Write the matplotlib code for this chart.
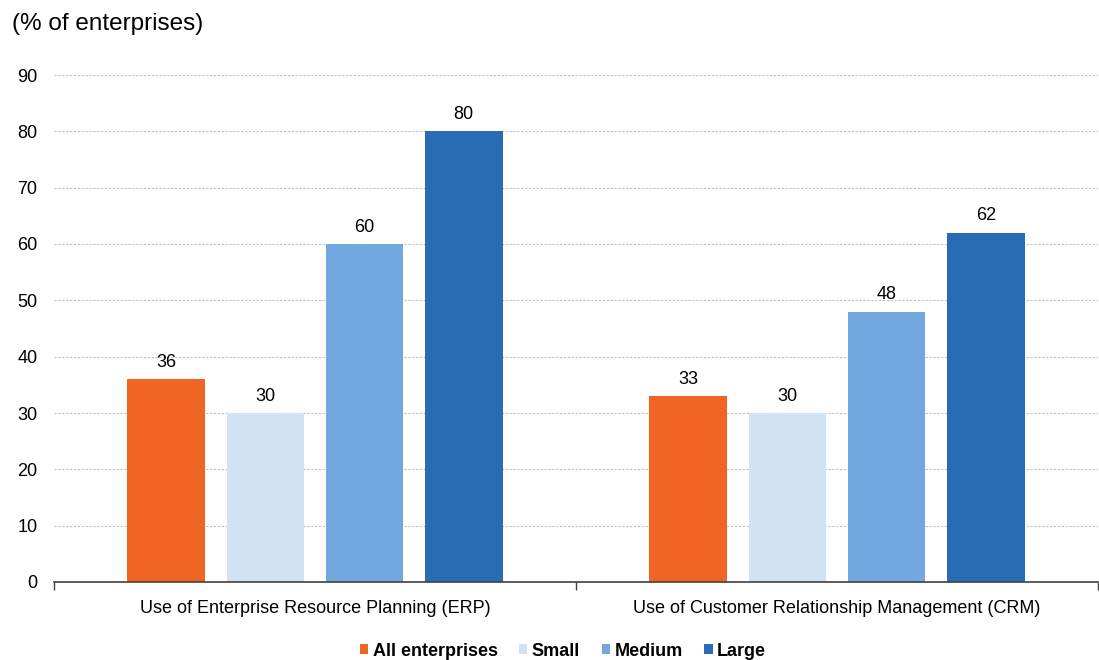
import matplotlib
matplotlib.use("Agg")
import matplotlib.pyplot as plt
from matplotlib.patches import Patch
import numpy as np

plt.rcParams['font.family'] = ['Liberation Sans', 'DejaVu Sans']

categories = ["Use of Enterprise Resource Planning (ERP)",
              "Use of Customer Relationship Management (CRM)"]
series_names = ["All enterprises", "Small", "Medium", "Large"]
all_enterprises = [36, 33]
small = [30, 30]
medium = [60, 48]
large = [80, 62]
y_ticks = [0, 10, 20, 30, 40, 50, 60, 70, 80, 90]

colors = ["#F06424", "#D1E2F4", "#72A7DF", "#286DB4"]
series = [all_enterprises, small, medium, large]

fig = plt.figure(figsize=(10.99, 6.6), dpi=100)
ax = fig.add_axes([54 / 1099, 78 / 660, 1044 / 1099, (582 - 75) / 660])

x = np.arange(len(categories))
step = 0.19
width = 0.149
for i, (vals, c) in enumerate(zip(series, colors)):
    pos = x + (i - 1.5) * step
    bars = ax.bar(pos, vals, width=width, color=c, zorder=3)
    for b, v in zip(bars, vals):
        ax.text(b.get_x() + b.get_width() / 2, v + 1.5, f"{v}",
                ha="center", va="bottom", fontsize=13, color="#000000")

ax.set_xlim(-0.5, 1.5)
ax.set_ylim(0, 90)
ax.set_yticks(y_ticks)
ax.tick_params(axis="y", length=0, labelsize=13, pad=12)
ax.yaxis.grid(True, color="#BFBFBF", linestyle=(0, (2, 1.5)), linewidth=0.8, zorder=0)

ax.set_xticks([-0.5, 0.5, 1.5])
ax.set_xticklabels([])
ax.set_xticks(x, minor=True)
ax.set_xticklabels(categories, minor=True, fontsize=13)
ax.tick_params(axis="x", which="major", length=6, width=1, color="#404040", direction="out")
ax.tick_params(axis="x", which="minor", length=0, pad=13)

for s in ["top", "right", "left"]:
    ax.spines[s].set_visible(False)
ax.spines["bottom"].set_color("#404040")
ax.spines["bottom"].set_linewidth(1.2)
ax.spines["bottom"].set_zorder(4)

fig.text(12 / 1099, 1 - 24 / 660, "(% of enterprises)", fontsize=17.5, va="center", ha="left")

handles = [Patch(facecolor=c, edgecolor="none") for c in colors]
fig.legend(handles, series_names, loc="center", bbox_to_anchor=(563 / 1099, 1 - 651 / 660),
           ncol=4, frameon=False, handlelength=0.45, handleheight=0.45,
           handletextpad=0.25, columnspacing=1.2,
           prop={"weight": "bold", "size": 13})

fig.savefig("out.png", dpi=100)
